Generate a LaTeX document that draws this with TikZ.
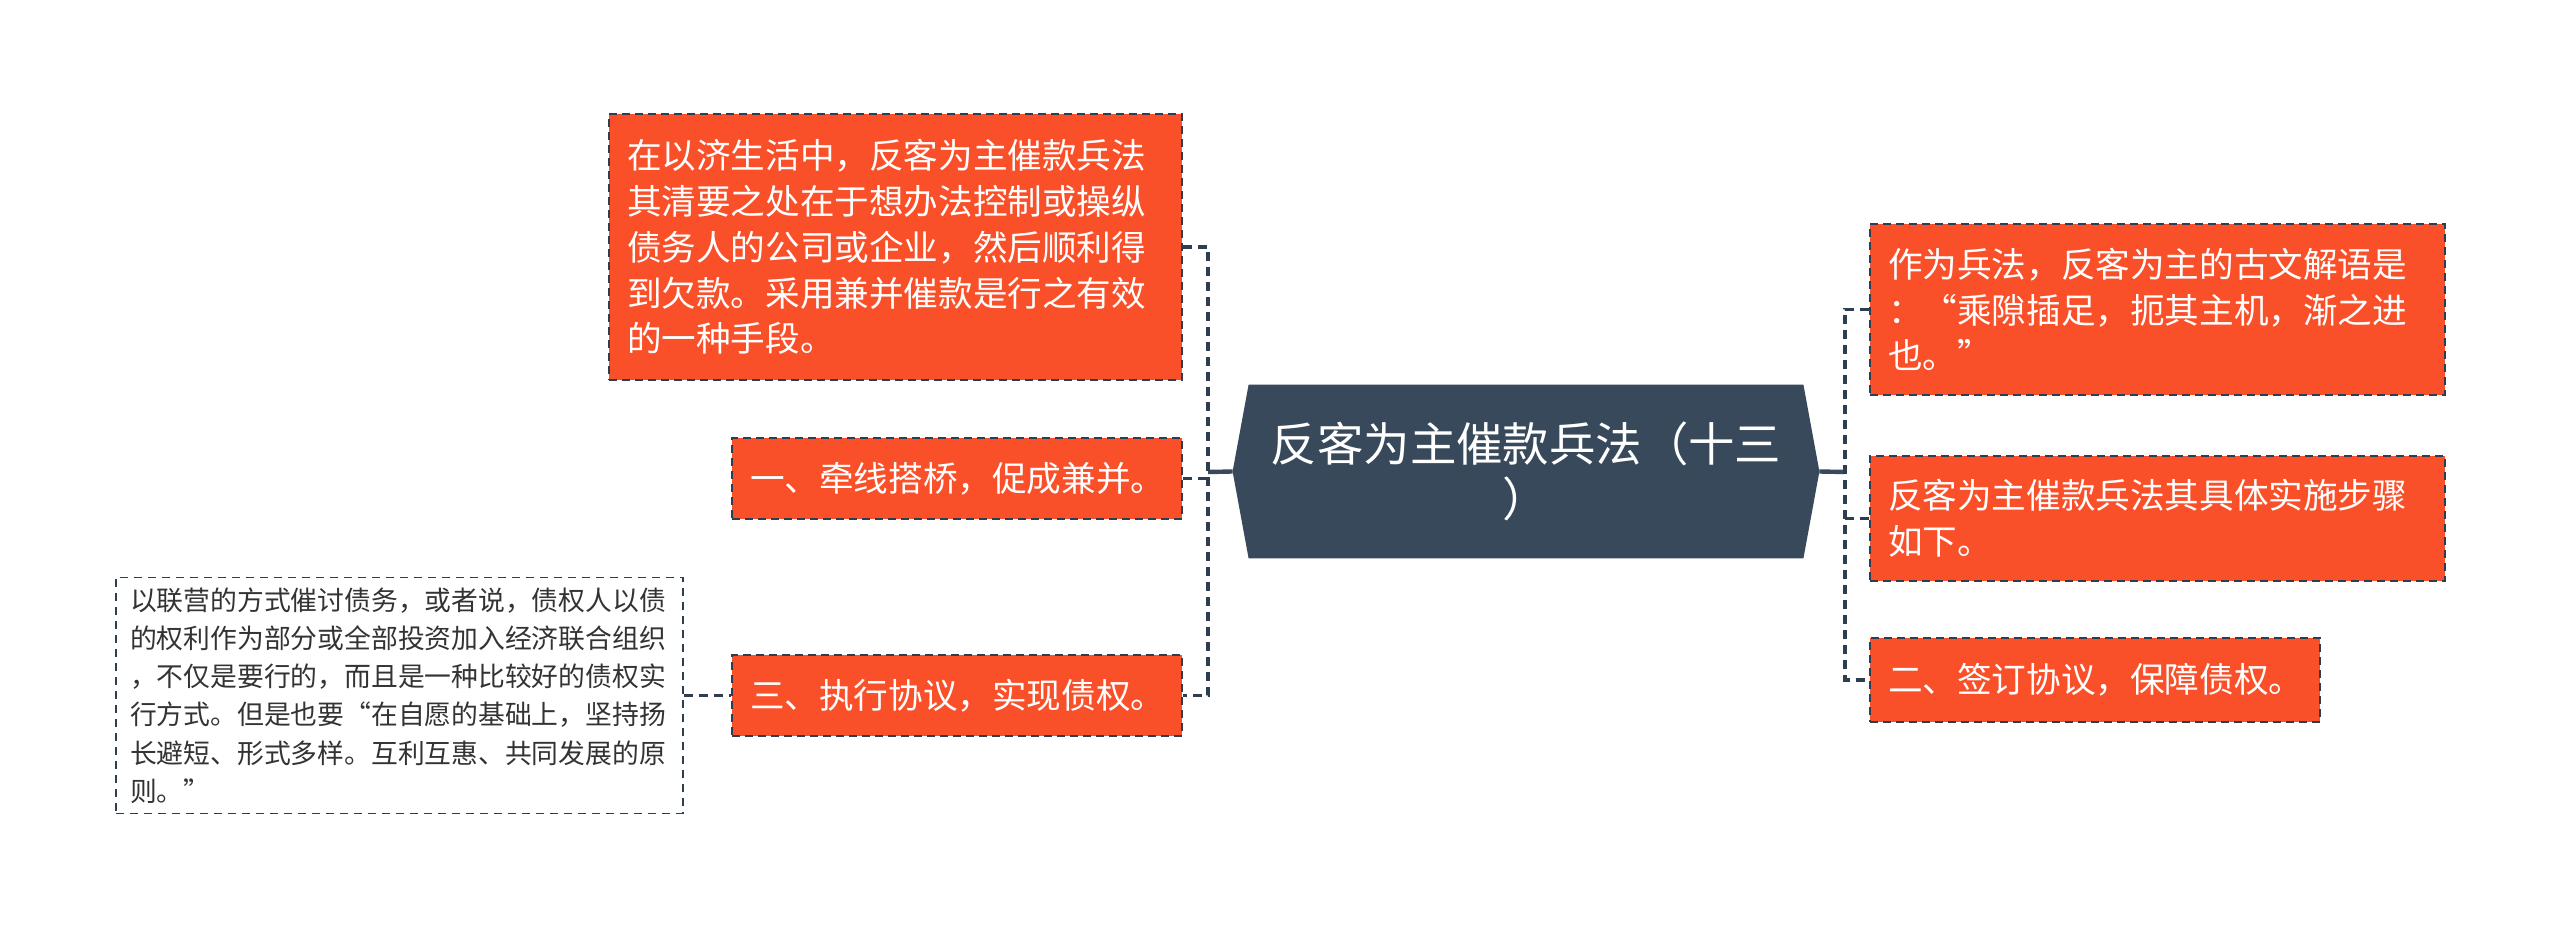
\documentclass[tikz,border=0pt]{standalone}
\usepackage{fontspec}
\newfontfamily\cjk{Noto Sans CJK SC}
\usetikzlibrary{calc,backgrounds}
\definecolor{topicred}{RGB}{250,80,42}
\definecolor{hexslate}{RGB}{55,73,91}
\definecolor{edgenavy}{RGB}{44,62,80}
\definecolor{notegray}{RGB}{51,51,51}
\tikzset{
  redbox/.style={draw=edgenavy, line width=1pt, dash pattern=on 4pt off 2.5pt,
    fill=topicred, text=white, inner xsep=9pt, inner ysep=0pt, align=left,
    font=\cjk\fontsize{17.3}{22.9}\selectfont},
  notebox/.style={draw=edgenavy, line width=0.8pt, dash pattern=on 4pt off 3pt,
    fill=white, text=notegray, inner xsep=7pt, inner ysep=0pt, align=left,
    font=\cjk\fontsize{13.4}{19.1}\selectfont},
  dashlink/.style={draw=edgenavy, line width=1.8pt, dash pattern=on 4.5pt off 3pt},
  solidlink/.style={draw=hexslate, line width=2.2pt},
}
\begin{document}
\begin{tikzpicture}[x=0.5pt, y=-0.5pt]
\useasboundingbox (0,0) rectangle (2560,929);
\node[inner sep=0pt, minimum width=293pt, minimum height=86.5pt, text=white, align=center,
  font=\cjk\fontsize{23.2}{27.8}\selectfont] (title) at (1526,471.5) {反客为主催款兵法（十三\\）};
\begin{scope}[on background layer]
\fill[white] (0,0) rectangle (2560,929);
\fill[hexslate] (title.west) -- ($(title.north west)+(16,0)$) -- ($(title.north east)+(-16,0)$)
  -- (title.east) -- ($(title.south east)+(-16,0)$) -- ($(title.south west)+(16,0)$) -- cycle;
\end{scope}
\node[redbox, minimum width=286.5pt, minimum height=133pt, text width=268.5pt] (habit) at (895.5,247)
  {在以济生活中，反客为主催款兵法\\其清要之处在于想办法控制或操纵\\债务人的公司或企业，然后顺利得\\到欠款。采用兼并催款是行之有效\\的一种手段。};
\node[redbox, minimum width=225pt, minimum height=40.5pt, text width=207pt] (step1) at (957,478.5)
  {一、牵线搭桥，促成兼并。};
\node[redbox, minimum width=225pt, minimum height=40.5pt, text width=207pt] (step3) at (957,695.5)
  {三、执行协议，实现债权。};
\node[notebox, minimum width=283.5pt, minimum height=118pt, text width=269.5pt] (note) at (399.5,695.5)
  {以联营的方式催讨债务，或者说，债权人以债\\的权利作为部分或全部投资加入经济联合组织\\，不仅是要行的，而且是一种比较好的债权实\\行方式。但是也要“在自愿的基础上，坚持扬\\长避短、形式多样。互利互惠、共同发展的原\\则。”};
\node[redbox, minimum width=287.5pt, minimum height=85.5pt, text width=269.5pt] (meaning) at (2157.5,309.5)
  {作为兵法，反客为主的古文解语是\\：“乘隙插足，扼其主机，渐之进\\也。”};
\node[redbox, minimum width=287.5pt, minimum height=62.5pt, text width=269.5pt] (howto) at (2157.5,518.5)
  {反客为主催款兵法其具体实施步骤\\如下。};
\node[redbox, minimum width=225pt, minimum height=42pt, text width=207pt] (step2) at (2095,680)
  {二、签订协议，保障债权。};
\coordinate (lspine) at (1208,472);
\coordinate (rspine) at (1845,472);
\draw[solidlink] (title.west) -- (lspine);
\draw[dashlink] (habit.east) -- (habit.east -| lspine) -- (step3.east -| lspine) -- (step3.east);
\draw[dashlink] (step1.east) -- (step1.east -| lspine);
\draw[solidlink] (title.east) -- (rspine);
\draw[dashlink] (meaning.west) -- (meaning.west -| rspine) -- (step2.west -| rspine) -- (step2.west);
\draw[dashlink] (howto.west) -- (howto.west -| rspine);
\draw[dashlink] (note.east) -- (step3.west);
\end{tikzpicture}
\end{document}
